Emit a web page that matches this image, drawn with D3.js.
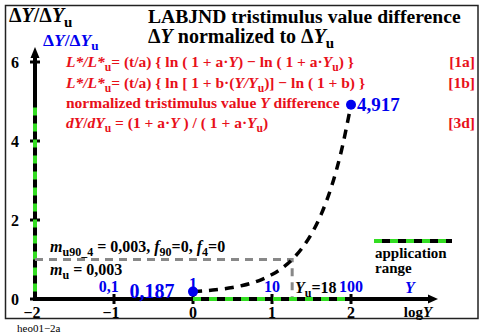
<!DOCTYPE html>
<html>
<head>
<meta charset="utf-8">
<script src="https://cdn.jsdelivr.net/npm/d3@7"></script>
<style>
  html, body { margin: 0; padding: 0; background: #fff; }
  svg { display: block; font-family: "Liberation Serif", "Times New Roman", serif; }
</style>
</head>
<body>
<svg id="chart" width="489" height="336"></svg>
<script>
// log10(Y) positions along the x axis and the normalized difference dY/dYu
const logY = [0, 0.125, 0.25, 0.375, 0.5, 0.625, 0.75, 0.875, 1.0, 1.125, 1.25, 1.375, 1.5, 1.625, 1.75, 1.875, 2.0];
const ratio = [0.187, 0.204, 0.225, 0.253, 0.291, 0.342, 0.409, 0.498, 0.618, 0.777, 0.989, 1.273, 1.651, 2.155, 2.826, 3.722, 4.917];

const xTicks = [-2, -1, 0, 1, 2];
const yTicks = [0, 2, 4, 6];
const yLabels = ["0,1", "1", "10", "100"];       // Y values above the log axis
const yLabelPos = [-1.04, 0, 1, 2];
const endPoints = [0.187, 4.917];                  // marked values at Y = 1 and Y = 100
const endLogY = [0, 2];
const logYu = Math.log10(18);                       // reference luminance Yu = 18
const appRangeX = [0, 2];
const appRangeY = [0.187, 4.917];

const svg = d3.select("#chart");
const x = d3.scaleLinear().domain([-2, 2]).range([35, 351]);
const y = d3.scaleLinear().domain([0, 6]).range([299, 62]);

const BLUE = "#0000ee", RED = "#e8101a", GREEN = "#33dd22", GRAY = "#888888";

// outer frame
svg.append("rect").attr("x", 5.5).attr("y", 5.5).attr("width", 472.5).attr("height", 313)
  .attr("fill", "none").attr("stroke", "#222").attr("stroke-width", 1.5);

// rich text helper: segments [text, flags] with i = italic, s = subscript
function rich(xp, yp, size, color, segs, anchor) {
  const t = svg.append("text").attr("x", xp).attr("y", yp)
    .attr("font-size", size).attr("font-weight", "bold").attr("fill", color)
    .attr("text-anchor", anchor || "start");
  let shift = 0;
  segs.forEach(([txt, f]) => {
    f = f || "";
    const sub = f.includes("s");
    const target = sub ? Math.round(size * 0.25) : 0;
    const ts = t.append("tspan").text(txt).attr("dy", target - shift);
    shift = target;
    if (f.includes("i")) ts.attr("font-style", "italic");
    if (sub) ts.attr("font-size", size * 0.75);
  });
  return t;
}

// axes
const axisG = svg.append("g");
axisG.append("line").attr("x1", x(-2)).attr("x2", 432).attr("y1", y(0)).attr("y2", y(0))
  .attr("stroke", "#000").attr("stroke-width", 4);
axisG.append("path").attr("d", `M438,${y(0)} L428,${y(0) - 4.5} L428,${y(0) + 4.5} Z`).attr("fill", "#000");
axisG.append("line").attr("x1", x(-2)).attr("x2", x(-2)).attr("y1", y(0) + 2).attr("y2", 55)
  .attr("stroke", "#000").attr("stroke-width", 4);
axisG.append("path").attr("d", `M${x(-2)},47 L${x(-2) - 4.5},58 L${x(-2) + 4.5},58 Z`).attr("fill", "#000");

// tick marks
xTicks.slice(1).forEach(v => {
  axisG.append("line").attr("x1", x(v)).attr("x2", x(v)).attr("y1", y(0) - 5).attr("y2", y(0) + 5)
    .attr("stroke", "#000").attr("stroke-width", 3);
});
yTicks.forEach(v => {
  axisG.append("line").attr("x1", x(-2) - 5).attr("x2", x(-2) + 5).attr("y1", y(v)).attr("y2", y(v))
    .attr("stroke", "#000").attr("stroke-width", 3);
});

// application range (green dashes over the black axes)
svg.append("line").attr("x1", x(appRangeX[0])).attr("x2", x(appRangeX[1])).attr("y1", y(0)).attr("y2", y(0))
  .attr("stroke", GREEN).attr("stroke-width", 4).attr("stroke-dasharray", "8,8");
svg.append("line").attr("x1", x(-2)).attr("x2", x(-2)).attr("y1", y(appRangeY[0])).attr("y2", y(appRangeY[1]))
  .attr("stroke", GREEN).attr("stroke-width", 4).attr("stroke-dasharray", "8,8");

// tick labels
xTicks.forEach(v => {
  svg.append("text").attr("x", x(v) - (v < 0 ? 3 : 0)).attr("y", 318).attr("text-anchor", "middle")
    .attr("font-size", 16).attr("font-weight", "bold").text(v < 0 ? "\u2212" + Math.abs(v) : v);
});
yTicks.forEach(v => {
  svg.append("text").attr("x", 15).attr("y", y(v) + 5.5).attr("text-anchor", "middle")
    .attr("font-size", 16).attr("font-weight", "bold").text(v);
});

// reference level at Yu
svg.append("path")
  .attr("d", `M${x(-2)},${y(1)} L${x(logYu)},${y(1)} L${x(logYu)},${y(0) - 2}`)
  .attr("fill", "none").attr("stroke", GRAY).attr("stroke-width", 3).attr("stroke-dasharray", "8,6");

// normalized difference curve
const line = d3.line().x((d, i) => x(logY[i])).y(d => y(d)).curve(d3.curveCatmullRom);
svg.append("path").datum(ratio).attr("d", line)
  .attr("fill", "none").attr("stroke", "#000").attr("stroke-width", 3.5).attr("stroke-dasharray", "9,7");

svg.selectAll("circle.end").data(endPoints).enter().append("circle")
  .attr("cx", (d, i) => x(endLogY[i])).attr("cy", d => y(d)).attr("r", 5).attr("fill", BLUE);

// Y value labels
yLabels.forEach((t, i) => {
  svg.append("text").attr("x", x(yLabelPos[i]) - (i === 0 ? 2 : 0)).attr("y", i === 1 ? 289 : 292)
    .attr("text-anchor", "middle")
    .attr("font-size", 16).attr("font-weight", "bold").attr("fill", BLUE).text(t);
});
svg.append("text").attr("x", 152).attr("y", 298).attr("text-anchor", "middle")
  .attr("font-size", 20).attr("font-weight", "bold").attr("fill", BLUE).text("0,187");
svg.append("text").attr("x", 357).attr("y", 111)
  .attr("font-size", 19).attr("font-weight", "bold").attr("fill", BLUE).text("4,917");
rich(295, 293, 16, "#000", [["Y", "i"], ["u", "s"], ["=18"]]);
rich(410, 293, 16, BLUE, [["Y", "i"]], "middle");
rich(418, 317, 15, "#000", [["log"], ["Y", "i"]], "middle");

// axis titles and header
rich(9, 21.5, 20, "#000", [["\u0394"], ["Y", "i"], ["/\u0394"], ["Y", "i"], ["u", "s"]]);
rich(43, 46, 17.5, BLUE, [["\u0394"], ["Y", "i"], ["/\u0394"], ["Y", "i"], ["u", "s"]]);
rich(148, 23, 19.6, "#000", [["LABJND tristimulus value difference"]]);
rich(148, 43, 20, "#000", [["\u0394"], ["Y", "i"], [" normalized to \u0394"], ["Y", "i"], ["u", "s"]]);

// formulas
rich(66, 67, 15.5, RED, [["L*/L*", "i"], ["u", "s"], ["= (t/a) { ln ( 1 + a\u00B7"], ["Y", "i"], [") \u2212 ln ( 1 + a\u00B7"], ["Y", "i"], ["u", "s"], [") }"]]);
rich(475, 67, 15.5, RED, [["[1a]"]], "end");
rich(66, 87.5, 15.5, RED, [["L*/L*", "i"], ["u", "s"], ["= (t/a) { ln [ 1 + b\u00B7("], ["Y/Y", "i"], ["u", "s"], [")] \u2212 ln ( 1 + b) }"]]);
rich(475, 87.5, 15.5, RED, [["[1b]"]], "end");
rich(66, 108, 15.5, RED, [["normalized tristimulus value "], ["Y", "i"], [" difference"]]);
rich(66, 127.5, 15.5, RED, [["dY", "i"], ["/"], ["dY", "i"], ["u", "s"], [" = (1 + a\u00B7"], ["Y", "i"], [" ) / ( 1 + a\u00B7"], ["Y", "i"], ["u", "s"], [")"]]);
rich(475, 127.5, 15.5, RED, [["[3d]"]], "end");

// parameters
rich(50, 252, 16, "#000", [["m", "i"], ["u90_4", "s"], [" = 0,003, "], ["f", "i"], ["90", "s"], ["=0, "], ["f", "i"], ["4", "s"], ["=0"]]);
rich(50, 275, 16, "#000", [["m", "i"], ["u", "s"], [" = 0,003"]]);

// legend
svg.append("line").attr("x1", 374).attr("x2", 452).attr("y1", 241).attr("y2", 241)
  .attr("stroke", "#000").attr("stroke-width", 4);
svg.append("line").attr("x1", 374).attr("x2", 452).attr("y1", 241).attr("y2", 241)
  .attr("stroke", GREEN).attr("stroke-width", 4).attr("stroke-dasharray", "8,8");
rich(375, 258, 15, "#000", [["application"]]);
rich(375, 273, 15, "#000", [["range"]]);

// figure id
svg.append("text").attr("x", 17).attr("y", 332).attr("font-size", 11).text("heo01\u22122a");
</script>
</body>
</html>
